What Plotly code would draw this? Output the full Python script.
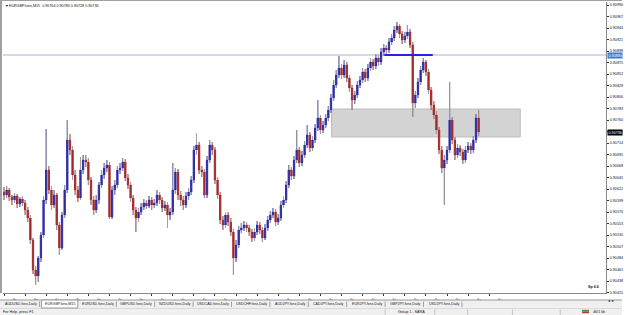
import plotly.graph_objects as go

# ---------------- data (prices in points, 1 point = 0.00001) ----------------
symbol = "EURGBP.fxnx,M15"

open_pts = [
    90616, 90610, 90620, 90606, 90600, 90608, 90592, 90602, 90594, 90580,
    90564, 90520, 90460, 90448, 90484, 90530, 90600, 90660, 90620, 90590,
    90610, 90550, 90504, 90570, 90620, 90720, 90700, 90650, 90620, 90604,
    90660, 90680, 90676, 90640, 90600, 90580, 90600, 90630, 90650, 90664,
    90670, 90566, 90620, 90630, 90660, 90664, 90676, 90644, 90630, 90604,
    90580, 90564, 90576, 90586, 90594, 90588, 90600, 90590, 90594, 90610,
    90600, 90584, 90590, 90570, 90576, 90620, 90656, 90610, 90600, 90590,
    90608, 90616, 90640, 90700, 90710, 90660, 90656, 90610, 90680, 90710,
    90700, 90640, 90610, 90560, 90550, 90570, 90556, 90536, 90484, 90510,
    90540, 90544, 90550, 90544, 90536, 90524, 90536, 90550, 90540, 90524,
    90544, 90560, 90570, 90576, 90556, 90564, 90590, 90600, 90630, 90660,
    90648, 90680, 90700, 90674, 90690, 90710, 90730, 90704, 90720, 90744,
    90764, 90740, 90750, 90764, 90780, 90804, 90830, 90850, 90864, 90850,
    90870, 90844, 90824, 90800, 90810, 90830, 90840, 90856, 90844, 90864,
    90876, 90868, 90884, 90876, 90896, 90904, 90900, 90916, 90924, 90940,
    90948, 90932, 90920, 90928, 90936, 90910, 90794, 90810, 90836, 90860,
    90876, 90856, 90820, 90790, 90770, 90740, 90700, 90664, 90680, 90700,
    90760, 90720, 90690, 90704, 90696, 90680, 90700, 90708, 90700, 90720, 90764,
]
high_pts = [
    90626, 90628, 90624, 90610, 90614, 90612, 90606, 90608, 90600, 90586,
    90570, 90524, 90468, 90488, 90536, 90608, 90742, 90668, 90628, 90620,
    90614, 90556, 90576, 90630, 90760, 90732, 90708, 90660, 90628, 90686,
    90690, 90690, 90684, 90646, 90608, 90610, 90636, 90660, 90674, 90680,
    90676, 90628, 90640, 90668, 90674, 90684, 90682, 90652, 90636, 90610,
    90586, 90584, 90594, 90602, 90600, 90608, 90606, 90602, 90620, 90616,
    90606, 90598, 90596, 90584, 90674, 90664, 90662, 90618, 90608, 90616,
    90624, 90648, 90708, 90734, 90716, 90668, 90662, 90688, 90720, 90716,
    90706, 90646, 90616, 90568, 90576, 90576, 90564, 90542, 90520, 90548,
    90554, 90558, 90556, 90550, 90542, 90544, 90558, 90556, 90546, 90552,
    90568, 90578, 90584, 90582, 90572, 90598, 90608, 90638, 90670, 90666,
    90688, 90740, 90706, 90698, 90718, 90750, 90736, 90728, 90752, 90800,
    90770, 90758, 90772, 90788, 90812, 90840, 90860, 90888, 90872, 90880,
    90876, 90850, 90830, 90818, 90838, 90848, 90864, 90862, 90872, 90884,
    90882, 90892, 90890, 90904, 90912, 90910, 90924, 90932, 90948, 90956,
    90952, 90938, 90936, 90950, 90942, 90916, 90818, 90844, 90868, 90884,
    90880, 90862, 90826, 90798, 90778, 90746, 90708, 90690, 90708, 90836,
    90766, 90726, 90712, 90710, 90702, 90708, 90716, 90714, 90728, 90772, 90780,
]
low_pts = [
    90600, 90604, 90598, 90590, 90594, 90584, 90586, 90588, 90570, 90556,
    90512, 90452, 90430, 90436, 90476, 90524, 90592, 90612, 90580, 90584,
    90540, 90490, 90500, 90564, 90614, 90690, 90640, 90610, 90596, 90600,
    90652, 90666, 90630, 90590, 90570, 90574, 90592, 90624, 90642, 90656,
    90562, 90562, 90610, 90624, 90652, 90658, 90638, 90622, 90596, 90570,
    90536, 90556, 90570, 90580, 90582, 90584, 90580, 90584, 90588, 90592,
    90576, 90578, 90544, 90560, 90570, 90612, 90600, 90588, 90580, 90584,
    90600, 90610, 90634, 90690, 90652, 90646, 90604, 90604, 90674, 90690,
    90632, 90602, 90552, 90540, 90544, 90548, 90528, 90450, 90476, 90504,
    90534, 90538, 90536, 90528, 90516, 90518, 90530, 90532, 90516, 90520,
    90538, 90554, 90564, 90548, 90550, 90558, 90584, 90594, 90624, 90640,
    90642, 90674, 90666, 90668, 90684, 90704, 90696, 90698, 90714, 90738,
    90732, 90734, 90744, 90758, 90774, 90798, 90824, 90844, 90842, 90844,
    90836, 90816, 90780, 90792, 90804, 90824, 90834, 90836, 90838, 90858,
    90860, 90862, 90868, 90870, 90888, 90892, 90894, 90910, 90918, 90934,
    90924, 90912, 90914, 90922, 90904, 90766, 90784, 90804, 90830, 90854,
    90848, 90812, 90780, 90762, 90732, 90692, 90654, 90590, 90672, 90694,
    90712, 90680, 90684, 90688, 90672, 90674, 90694, 90692, 90694, 90714, 90728,
]
close_pts = [
    90610, 90620, 90606, 90600, 90608, 90592, 90602, 90594, 90580, 90564,
    90520, 90460, 90448, 90484, 90530, 90600, 90660, 90620, 90590, 90610,
    90550, 90504, 90570, 90620, 90720, 90700, 90650, 90620, 90604, 90660,
    90680, 90676, 90640, 90600, 90580, 90600, 90630, 90650, 90664, 90670,
    90566, 90620, 90630, 90660, 90664, 90676, 90644, 90630, 90604, 90580,
    90564, 90576, 90586, 90594, 90588, 90600, 90590, 90594, 90610, 90600,
    90584, 90590, 90570, 90576, 90620, 90656, 90610, 90600, 90590, 90608,
    90616, 90640, 90700, 90710, 90660, 90656, 90610, 90680, 90710, 90700,
    90640, 90610, 90560, 90550, 90570, 90556, 90536, 90484, 90510, 90540,
    90544, 90550, 90544, 90536, 90524, 90536, 90550, 90540, 90524, 90544,
    90560, 90570, 90576, 90556, 90564, 90590, 90600, 90630, 90660, 90648,
    90680, 90700, 90674, 90690, 90710, 90730, 90704, 90720, 90744, 90764,
    90740, 90750, 90764, 90780, 90804, 90830, 90850, 90864, 90850, 90870,
    90844, 90824, 90800, 90810, 90830, 90840, 90856, 90844, 90864, 90876,
    90868, 90884, 90876, 90896, 90904, 90900, 90916, 90924, 90940, 90948,
    90932, 90920, 90928, 90936, 90910, 90794, 90810, 90836, 90860, 90876,
    90856, 90820, 90790, 90770, 90740, 90700, 90664, 90680, 90700, 90760,
    90720, 90690, 90704, 90696, 90680, 90700, 90708, 90700, 90720, 90764, 90736,
]

date_labels = [
    "25 Aug 2020", "25 Aug 12:00", "25 Aug 14:00", "25 Aug 16:00", "25 Aug 18:00",
    "25 Aug 20:00", "25 Aug 22:00", "26 Aug 00:00", "26 Aug 02:00", "26 Aug 04:00",
    "26 Aug 06:00", "26 Aug 08:00", "26 Aug 10:00", "26 Aug 12:00", "26 Aug 14:00",
    "26 Aug 16:00", "26 Aug 18:00", "26 Aug 20:00", "26 Aug 22:00", "27 Aug 00:00",
    "27 Aug 02:00", "27 Aug 04:00", "27 Aug 06:00", "27 Aug 08:00",
]
bars_per_label = 8

price_ticks_pts = [
    90990, 90967, 90944, 90921, 90898, 90875, 90852, 90829, 90806, 90783,
    90760, 90737, 90714, 90691, 90668, 90645, 90622, 90599, 90576, 90553,
    90530, 90507, 90484, 90461, 90438, 90415,
]

level_pts = 90890               # horizontal line
zone_low_pts, zone_high_pts = 90726, 90782
zone_bar_start, zone_bar_end = 124.2, 195.8
segment_bar_start, segment_bar_end = 144.2, 162.6

tab_labels = [
    "AUDUSD.fxnx,Daily", "EURGBP.fxnx,M15", "EURUSD.fxnx,Daily", "GBPUSD.fxnx,Daily",
    "NZDUSD.fxnx,Daily", "USDCAD.fxnx,Daily", "USDCHF.fxnx,Daily", "AUDJPY.fxnx,Daily",
    "CADJPY.fxnx,Daily", "EURJPY.fxnx,Daily", "GBPJPY.fxnx,Daily", "USDJPY.fxnx,Daily",
]
active_tab = 1
spread_text = "Sp 6.6"
status_help = "For Help, press F1"
status_profile = "Group 1 - SARA"
status_traffic = "46/1 kb"

# ---------------- build ----------------
SCALE = 1e5
o = [v / SCALE for v in open_pts]
h = [v / SCALE for v in high_pts]
l = [v / SCALE for v in low_pts]
c = [v / SCALE for v in close_pts]
idx = list(range(len(o)))

BLUE = "#2c2ca8"
RED = "#a32a2a"
WICK = "#a3a3a3"
FONT = "Liberation Sans"

fig = go.Figure()
fig.add_trace(go.Candlestick(
    x=idx, open=o, high=h, low=l, close=c,
    increasing=dict(line=dict(color=BLUE, width=1), fillcolor=BLUE),
    decreasing=dict(line=dict(color=RED, width=1), fillcolor=RED),
    whiskerwidth=0, showlegend=False, hoverinfo="skip",
))

wx, wy = [], []
for i, (oo, hh, ll, cc) in enumerate(zip(o, h, l, c)):
    top, bot = max(oo, cc), min(oo, cc)
    wx += [i, i, None, i, i, None]
    wy += [hh, top, None, bot, ll, None]
fig.add_trace(go.Scatter(x=wx, y=wy, mode="lines", line=dict(color=WICK, width=1),
                         showlegend=False, hoverinfo="skip"))

# pixel helpers for window chrome
PX0, PX1, PY0, PY1 = 3, 609, 2, 293
def fx(p):
    return (p - PX0) / (PX1 - PX0)
def fy(p):
    return (PY1 - p) / (PY1 - PY0)

shapes = []
annotations = []

# zone, level line, blue segment
shapes.append(dict(type="rect", xref="x", yref="y", x0=zone_bar_start, x1=zone_bar_end,
                   y0=zone_low_pts / SCALE, y1=zone_high_pts / SCALE,
                   fillcolor="#d3d3d3", line=dict(color="#bdbdbd", width=1), layer="below"))
shapes.append(dict(type="line", xref="paper", yref="y", x0=0, x1=1,
                   y0=level_pts / SCALE, y1=level_pts / SCALE,
                   line=dict(color="#a5b5d2", width=1), layer="below"))
shapes.append(dict(type="line", xref="x", yref="y", x0=segment_bar_start, x1=segment_bar_end,
                   y0=level_pts / SCALE, y1=level_pts / SCALE,
                   line=dict(color="#2424e6", width=2), layer="above"))

# window chrome
def prect(x0, y0, x1, y1, fill, line=None, lw=0):
    shapes.append(dict(type="rect", xref="paper", yref="paper",
                       x0=fx(x0), x1=fx(x1), y0=fy(y1), y1=fy(y0),
                       fillcolor=fill, line=dict(color=line or fill, width=lw), layer="above"))

def pline(x0, y0, x1, y1, color, w=1):
    shapes.append(dict(type="line", xref="paper", yref="paper",
                       x0=fx(x0), x1=fx(x1), y0=fy(y0), y1=fy(y1),
                       line=dict(color=color, width=w), layer="above"))

prect(0, 0, 625, 1, "#a0a0a0")
prect(0, 0, 2, 293, "#a0a0a0")
prect(0, 300, 625, 315, "#f0f0f0")
pline(0, 300, 625, 300, "#9a9a9a")
pline(0, 308.5, 625, 308.5, "#dadada")

tab_x0, tab_w = 2, 38.6
for k, name in enumerate(tab_labels):
    x0 = tab_x0 + k * tab_w
    x1 = x0 + tab_w
    if k == active_tab:
        prect(x0 + 1, 300, x1 - 1, 308, "white", "#9a9a9a", 1)
    else:
        pline(x1 - 1, 301.5, x1 - 1, 307, "#a0a0a0")
    annotations.append(dict(text=name, x=fx((x0 + x1) / 2), y=fy(304.2), xref="paper", yref="paper",
                            showarrow=False, xanchor="center", yanchor="middle",
                            font=dict(family=FONT, size=3.6, color="#222"), ))
for sx in [387, 437, 470, 515, 563]:
    pline(sx, 309.5, sx, 315, "#c4c4c4")

# traffic icon
prect(585, 309.8, 592, 311.5, "#3a9a3a")
prect(585, 311.5, 592, 313.2, "#c43030")

annotations += [
    dict(text=status_help, x=fx(1), y=fy(311.7), xanchor="left"),
    dict(text=status_profile, x=fx(398), y=fy(311.7), xanchor="left"),
    dict(text=status_traffic, x=fx(594), y=fy(311.7), xanchor="left"),
    dict(text="◂  ▸", x=fx(609), y=fy(301), xanchor="left"),
    dict(text=f"{symbol}  {o[-1]:.5f} {h[-1]:.5f} {l[-1]:.5f} {c[-1]:.5f}",
         x=fx(7), y=fy(6.5), xanchor="left"),
    dict(text="▼", x=fx(3.2), y=fy(6.5), xanchor="left"),
    dict(text=f"<b>{spread_text}</b>", x=fx(604), y=fy(286.5), xanchor="right"),
]
for a in annotations:
    a.setdefault("xref", "paper")
    a.setdefault("yref", "paper")
    a.setdefault("showarrow", False)
    a.setdefault("yanchor", "middle")
    a.setdefault("font", dict(family=FONT, size=3.7, color="#111"))

# price boxes on the axis
annotations.append(dict(text=f"{level_pts / SCALE:.5f}", xref="paper", yref="y", x=1, y=level_pts / SCALE,
                        xanchor="left", yanchor="middle", xshift=1, showarrow=False,
                        bgcolor="#3f7ad6", borderpad=0.5,
                        font=dict(family=FONT, size=3.7, color="white")))
annotations.append(dict(text=f"{c[-1]:.5f}", xref="paper", yref="y", x=1, y=c[-1],
                        xanchor="left", yanchor="middle", xshift=1, showarrow=False,
                        bgcolor="#000000", borderpad=0.5,
                        font=dict(family=FONT, size=3.7, color="white")))

fig.update_layout(
    width=625, height=315,
    margin=dict(l=PX0, r=625 - PX1, t=PY0, b=315 - PY1),
    paper_bgcolor="white", plot_bgcolor="white",
    showlegend=False,
    shapes=shapes, annotations=annotations,
    xaxis=dict(
        range=[-0.38, 228.3], rangeslider=dict(visible=False),
        tickvals=[k * bars_per_label for k in range(len(date_labels))],
        ticktext=date_labels, ticks="outside", ticklen=2, tickcolor="#333",
        ticklabelshift=9, showgrid=False, zeroline=False,
        showline=True, linecolor="#8a8a8a", linewidth=1,
        tickfont=dict(family=FONT, size=3.6, color="#111"),
    ),
    yaxis=dict(
        side="right", range=[0.90414, 0.90996],
        tickvals=[v / SCALE for v in price_ticks_pts],
        ticktext=[f"{v / SCALE:.5f}" for v in price_ticks_pts],
        ticks="outside", ticklen=2, tickcolor="#333",
        showgrid=False, zeroline=False,
        showline=True, linecolor="#8a8a8a", linewidth=1,
        tickfont=dict(family=FONT, size=3.7, color="#111"),
    ),
)

fig.write_html("out.html")
